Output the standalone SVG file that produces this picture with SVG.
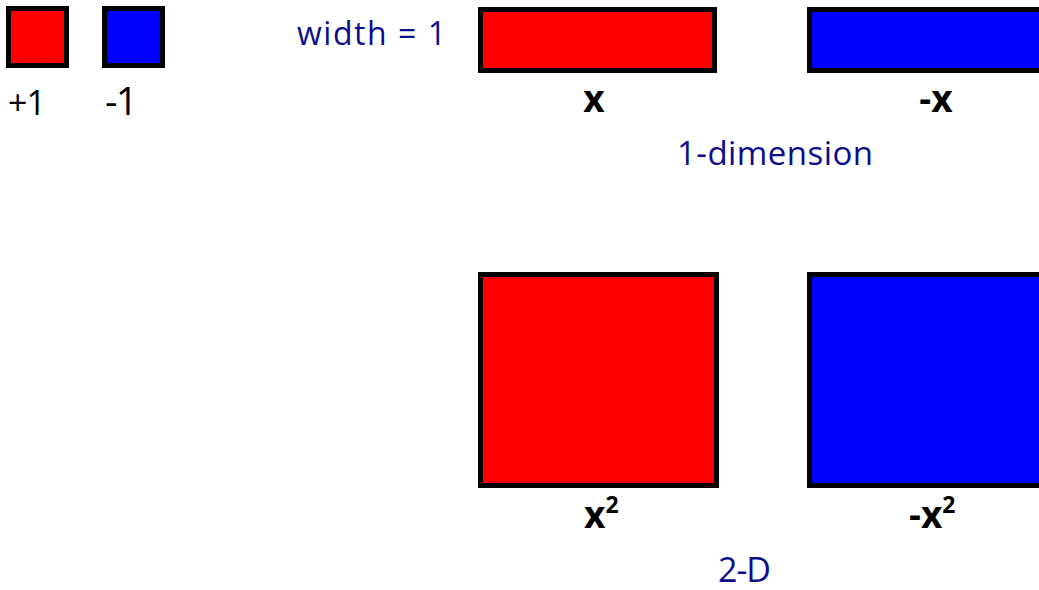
<svg xmlns="http://www.w3.org/2000/svg" width="1039" height="590" viewBox="0 0 1039 590">
<style>
.red{fill:#ff0000;stroke:#000;stroke-width:5}
.blue{fill:#0000ff;stroke:#000;stroke-width:5}
.lab{font-family:"Open Sans",sans-serif;fill:#000}
.blab{font-family:"Open Sans",sans-serif;font-weight:bold;fill:#000;font-size:37px}
.nv{font-family:"Open Sans",sans-serif;fill:#0c0c8c}
</style>
<rect width="1039" height="590" fill="#fff"/>
<g id="plus1">
<rect class="red" x="8.5" y="8.5" width="58" height="57"/>
<text class="lab" x="8" y="115" font-size="34" textLength="38">+1</text>
</g>
<g id="minus1">
<rect class="blue" x="104.5" y="8.5" width="58" height="57"/>
<text class="lab" x="105" y="115" font-size="39" textLength="33">-1</text>
</g>
<text class="nv" x="297" y="45" font-size="32" textLength="149">width = 1</text>
<g id="x">
<rect class="red" x="480.5" y="9.5" width="234" height="61"/>
<text class="blab" x="594" y="112" text-anchor="middle">x</text>
</g>
<g id="negx">
<rect class="blue" x="809.5" y="9.5" width="240" height="61"/>
<text class="blab" x="936" y="112" text-anchor="middle">-x</text>
</g>
<text class="nv" x="677" y="165" font-size="33" textLength="196">1-dimension</text>
<g id="x2">
<rect class="red" x="480.5" y="274.5" width="236" height="211"/>
<text class="blab" x="584" y="528">x<tspan font-size="23" dy="-15">2</tspan></text>
</g>
<g id="negx2">
<rect class="blue" x="809.5" y="274.5" width="240" height="211"/>
<text class="blab" x="909" y="528">-x<tspan font-size="23" dy="-15">2</tspan></text>
</g>
<text class="nv" x="718" y="582" font-size="34" textLength="53">2-D</text>
<g id="connectors"/>
</svg>
